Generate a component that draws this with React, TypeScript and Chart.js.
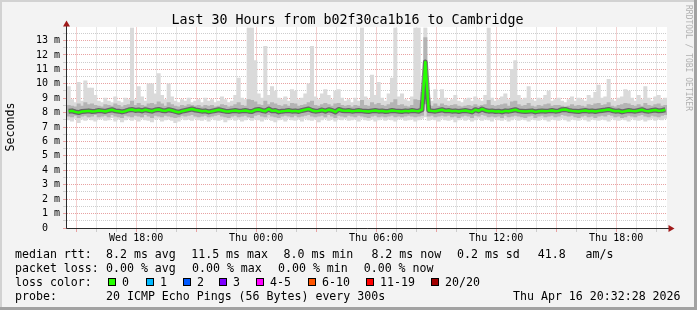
import React, { useEffect, useRef } from 'react';
import { Chart, registerables } from 'chart.js';

Chart.register(...registerables);

const FONT = '"DejaVu Sans Mono", "Liberation Mono", monospace';

const chartTitle = 'Last 30 Hours from b02f30ca1b16 to Cambridge';
const yAxisTitle = 'Seconds';
const watermark = 'RRDTOOL / TOBI OETIKER';

// time axis in hours since the first sample (Wed 14:32:28); one sample every 10 minutes
const spanHours = 30;
const stepHours = 1 / 6;
const firstFullHour = 0.4589; // Wed 15:00
const firstFullHourOfDay = 15;
const hourMarkCount = 30;
const xTickLabels = ['Wed 18:00', 'Thu 00:00', 'Thu 06:00', 'Thu 12:00', 'Thu 18:00'];
const xTickHourMark = [3, 9, 15, 21, 27];

const yMax = 13.9;
const yStep = 0.5;
const yTickLabels = ['0  ', '1 m', '2 m', '3 m', '4 m', '5 m', '6 m', '7 m', '8 m', '9 m', '10 m', '11 m', '12 m', '13 m'];

// median round trip time (ms)
const medianRtt = [
  8.10, 8.12, 8.05, 8.00, 8.08, 8.10, 8.12, 8.08, 8.10, 8.14, 8.12, 8.08, 8.15, 8.20, 8.12, 8.10, 8.05, 8.10, 8.18, 8.22,
  8.15, 8.18, 8.12, 8.20, 8.15, 8.10, 8.18, 8.22, 8.15, 8.12, 8.20, 8.15, 8.08, 8.02, 8.10, 8.15, 8.20, 8.25, 8.18, 8.15,
  8.10, 8.12, 8.05, 8.10, 8.15, 8.20, 8.15, 8.10, 8.08, 8.12, 8.15, 8.10, 8.12, 8.15, 8.10, 8.08, 8.18, 8.22, 8.15, 8.10,
  8.25, 8.12, 8.15, 8.05, 8.10, 8.12, 8.15, 8.10, 8.12, 8.08, 8.15, 8.20, 8.25, 8.15, 8.10, 8.12, 8.18, 8.10, 8.20, 8.15,
  8.05, 8.22, 8.15, 8.12, 8.15, 8.10, 8.12, 8.15, 8.12, 8.10, 8.08, 8.12, 8.15, 8.10, 8.12, 8.08, 8.10, 8.15, 8.12, 8.10,
  8.08, 8.12, 8.10, 8.15, 8.12, 8.10, 8.20, 11.50, 8.15, 8.12, 8.10, 8.15, 8.20, 8.12, 8.15, 8.10, 8.12, 8.08, 8.12, 8.15,
  8.10, 8.05, 8.20, 8.12, 8.25, 8.15, 8.10, 8.12, 8.08, 8.10, 8.05, 8.12, 8.10, 8.15, 8.20, 8.12, 8.10, 8.08, 8.10, 8.12,
  8.05, 8.10, 8.12, 8.10, 8.12, 8.15, 8.10, 8.12, 8.20, 8.22, 8.15, 8.12, 8.10, 8.08, 8.12, 8.15, 8.10, 8.12, 8.08, 8.12,
  8.15, 8.18, 8.22, 8.15, 8.10, 8.12, 8.05, 8.10, 8.15, 8.12, 8.10, 8.15, 8.20, 8.12, 8.10, 8.15, 8.18, 8.12, 8.15, 8.20,
];

// highest ping of each round (ms)
const maxRtt = [
  9.80, 8.90, 8.70, 10.10, 8.80, 10.20, 9.70, 9.70, 9.20, 8.80, 8.70, 9.00, 8.80, 8.70, 9.10, 8.80, 8.70, 9.00, 8.90, 13.90,
  8.90, 9.80, 9.10, 8.80, 10.00, 10.00, 9.30, 10.70, 9.20, 8.90, 10.00, 9.10, 8.80, 8.70, 8.90, 8.80, 9.00, 8.70, 8.80, 8.90,
  8.70, 9.00, 8.80, 8.90, 8.70, 8.80, 9.10, 8.90, 8.70, 8.80, 9.20, 10.40, 9.00, 8.90, 13.90, 13.90, 11.60, 9.30, 9.00, 12.60,
  9.20, 9.80, 9.50, 9.00, 8.90, 9.10, 8.80, 9.60, 9.50, 8.90, 9.00, 9.30, 10.00, 12.60, 9.10, 8.90, 9.30, 9.60, 9.20, 8.90,
  9.50, 9.60, 9.00, 8.80, 8.90, 8.70, 9.00, 8.80, 13.90, 9.10, 8.90, 10.60, 9.20, 10.10, 9.00, 8.80, 9.30, 10.40, 13.90, 9.10,
  9.30, 8.90, 8.80, 9.10, 13.90, 13.90, 9.40, 13.90, 9.00, 8.80, 9.60, 8.90, 9.60, 9.00, 8.80, 8.90, 9.20, 8.80, 8.70, 8.90,
  9.00, 8.80, 9.10, 8.90, 8.80, 9.20, 13.90, 9.00, 8.80, 8.90, 9.10, 9.30, 8.90, 11.00, 11.60, 9.20, 8.90, 9.00, 9.80, 8.90,
  8.80, 9.00, 8.90, 9.20, 9.50, 8.80, 8.90, 9.00, 8.80, 8.70, 8.90, 9.10, 8.80, 9.00, 8.90, 8.80, 9.20, 9.00, 9.40, 9.90,
  9.00, 9.10, 10.30, 8.90, 8.80, 9.00, 9.10, 9.60, 9.50, 9.00, 8.80, 9.20, 8.90, 9.80, 9.00, 8.80, 9.10, 9.20, 8.90, 9.00,
];

// upper edge of the dense part of the smoke (ms)
const upperRtt = [
  8.50, 8.45, 8.40, 8.60, 8.45, 8.70, 8.55, 8.60, 8.50, 8.45, 8.40, 8.55, 8.50, 8.45, 8.60, 8.50, 8.40, 8.50, 8.55, 8.80,
  8.50, 8.65, 8.50, 8.45, 8.60, 8.65, 8.55, 8.75, 8.60, 8.45, 8.70, 8.55, 8.45, 8.40, 8.50, 8.45, 8.55, 8.50, 8.45, 8.50,
  8.40, 8.50, 8.45, 8.50, 8.40, 8.45, 8.55, 8.50, 8.40, 8.45, 8.55, 8.70, 8.50, 8.45, 8.90, 8.85, 8.75, 8.55, 8.50, 8.80,
  8.55, 8.70, 8.60, 8.50, 8.45, 8.55, 8.45, 8.65, 8.60, 8.45, 8.50, 8.55, 8.70, 8.80, 8.50, 8.45, 8.55, 8.65, 8.55, 8.45,
  8.60, 8.65, 8.50, 8.45, 8.50, 8.40, 8.50, 8.45, 8.85, 8.50, 8.45, 8.70, 8.55, 8.65, 8.50, 8.45, 8.55, 8.70, 8.90, 8.50,
  8.55, 8.45, 8.40, 8.50, 8.90, 8.85, 8.70, 13.20, 8.50, 8.45, 8.60, 8.45, 8.60, 8.50, 8.45, 8.50, 8.55, 8.45, 8.40, 8.45,
  8.50, 8.45, 8.55, 8.45, 8.50, 8.55, 8.85, 8.50, 8.45, 8.50, 8.55, 8.60, 8.45, 8.75, 8.80, 8.55, 8.45, 8.50, 8.65, 8.45,
  8.40, 8.50, 8.45, 8.55, 8.60, 8.45, 8.50, 8.50, 8.45, 8.40, 8.45, 8.55, 8.45, 8.50, 8.45, 8.40, 8.55, 8.50, 8.60, 8.65,
  8.50, 8.55, 8.70, 8.45, 8.40, 8.50, 8.55, 8.65, 8.60, 8.50, 8.45, 8.55, 8.45, 8.65, 8.50, 8.45, 8.55, 8.60, 8.45, 8.50,
];

// lower edge of the dense part of the smoke (ms)
const lowerRtt = [
  7.75, 7.70, 7.80, 7.65, 7.75, 7.80, 7.70, 7.75, 7.85, 7.70, 7.75, 7.80, 7.70, 7.85, 7.75, 7.70, 7.65, 7.80, 7.75, 7.70,
  7.80, 7.75, 7.70, 7.85, 7.75, 7.65, 7.80, 7.75, 7.70, 7.80, 7.75, 7.70, 7.65, 7.70, 7.80, 7.75, 7.80, 7.85, 7.75, 7.70,
  7.75, 7.80, 7.70, 7.75, 7.80, 7.85, 7.75, 7.70, 7.65, 7.75, 7.80, 7.70, 7.75, 7.80, 7.70, 7.65, 7.80, 7.85, 7.75, 7.70,
  7.85, 7.75, 7.70, 7.65, 7.75, 7.80, 7.75, 7.70, 7.80, 7.70, 7.75, 7.80, 7.85, 7.75, 7.70, 7.75, 7.80, 7.70, 7.85, 7.75,
  7.65, 7.80, 7.75, 7.70, 7.80, 7.75, 7.70, 7.80, 7.75, 7.70, 7.65, 7.75, 7.80, 7.70, 7.75, 7.70, 7.75, 7.80, 7.70, 7.75,
  7.70, 7.75, 7.80, 7.75, 7.70, 7.75, 7.80, 8.60, 7.75, 7.80, 7.70, 7.75, 7.80, 7.75, 7.80, 7.70, 7.75, 7.65, 7.75, 7.80,
  7.75, 7.65, 7.80, 7.75, 7.85, 7.80, 7.70, 7.75, 7.70, 7.75, 7.65, 7.80, 7.70, 7.75, 7.80, 7.75, 7.70, 7.65, 7.75, 7.80,
  7.65, 7.75, 7.80, 7.70, 7.75, 7.80, 7.70, 7.75, 7.85, 7.80, 7.75, 7.80, 7.70, 7.65, 7.75, 7.80, 7.70, 7.75, 7.65, 7.75,
  7.80, 7.75, 7.85, 7.80, 7.70, 7.75, 7.65, 7.70, 7.80, 7.75, 7.70, 7.80, 7.85, 7.75, 7.70, 7.80, 7.75, 7.70, 7.80, 7.85,
];

// lowest ping of each round (ms)
const minRtt = [
  7.50, 7.40, 7.60, 7.30, 7.55, 7.45, 7.60, 7.50, 7.40, 7.55, 7.60, 7.45, 7.50, 7.65, 7.40, 7.55, 7.35, 7.50, 7.60, 7.45,
  7.55, 7.40, 7.60, 7.50, 7.45, 7.35, 7.55, 7.60, 7.40, 7.50, 7.55, 7.45, 7.30, 7.40, 7.60, 7.50, 7.55, 7.45, 7.60, 7.50,
  7.45, 7.55, 7.40, 7.60, 7.50, 7.45, 7.55, 7.35, 7.50, 7.60, 7.45, 7.55, 7.40, 7.50, 7.60, 7.45, 7.55, 7.50, 7.40, 7.55,
  7.60, 7.45, 7.35, 7.50, 7.55, 7.40, 7.60, 7.50, 7.45, 7.55, 7.40, 7.60, 7.50, 7.45, 7.55, 7.35, 7.50, 7.60, 7.45, 7.55,
  7.40, 7.55, 7.50, 7.60, 7.45, 7.50, 7.55, 7.40, 7.60, 7.50, 7.45, 7.55, 7.40, 7.50, 7.60, 7.45, 7.55, 7.50, 7.40, 7.55,
  7.60, 7.45, 7.50, 7.55, 7.40, 7.50, 7.60, 7.70, 7.45, 7.55, 7.50, 7.40, 7.60, 7.50, 7.45, 7.55, 7.35, 7.50, 7.60, 7.45,
  7.55, 7.40, 7.50, 7.60, 7.45, 7.55, 7.50, 7.40, 7.60, 7.50, 7.45, 7.55, 7.40, 7.50, 7.60, 7.45, 7.55, 7.50, 7.40, 7.55,
  7.50, 7.45, 7.60, 7.50, 7.40, 7.55, 7.50, 7.45, 7.60, 7.50, 7.40, 7.55, 7.50, 7.45, 7.60, 7.50, 7.40, 7.55, 7.50, 7.45,
  7.55, 7.50, 7.40, 7.60, 7.50, 7.45, 7.55, 7.50, 7.40, 7.60, 7.50, 7.45, 7.55, 7.40, 7.50, 7.60, 7.45, 7.55, 7.50, 7.60,
];

const legendRtt = ['median rtt:', '8.2 ms avg', '11.5 ms max', '8.0 ms min', '8.2 ms now', '0.2 ms sd', '41.8', 'am/s'];
const legendLoss = ['packet loss:', '0.00 % avg', '0.00 % max', '0.00 % min', '0.00 % now'];
const lossColorTitle = 'loss color:';
const lossLabels = ['0', '1', '2', '3', '4-5', '6-10', '11-19', '20/20'];
const lossColors = ['#26ff00', '#00b8ff', '#0059ff', '#7e00ff', '#ff00ff', '#ff5500', '#ff0000', '#a10000'];
const legendProbe = ['probe:', '20 ICMP Echo Pings (56 Bytes) every 300s', 'Thu Apr 16 20:32:28 2026'];

const W = 697;
const H = 310;
const GRID_RED = '#e8a2a2';
const GRID_GRAY = '#cdcdcd';
const ARROW = '#a01a1a';

const decorPlugin = {
  id: 'decor',
  beforeDraw(chart: any) {
    const { ctx, chartArea: a } = chart;
    ctx.save();
    ctx.fillStyle = '#f3f3f3';
    ctx.fillRect(0, 0, W, H);
    ctx.fillStyle = '#d2d2d2';
    ctx.fillRect(0, 0, W, 2);
    ctx.fillRect(0, 0, 2, H);
    ctx.fillStyle = '#a2a2a2';
    ctx.fillRect(W - 3, 0, 3, H);
    ctx.fillRect(0, H - 3, W, 3);
    ctx.fillStyle = '#ffffff';
    ctx.fillRect(a.left, Math.floor(a.top), a.right - a.left, a.bottom - Math.floor(a.top));
    ctx.restore();
  },
  afterDraw(chart: any) {
    const { ctx, chartArea: a } = chart;
    ctx.save();
    // axes
    ctx.strokeStyle = '#2a2a2a';
    ctx.lineWidth = 1;
    ctx.beginPath();
    const ax = a.left - 0.5;
    const ay = a.bottom + 0.5;
    ctx.moveTo(ax, ay);
    ctx.lineTo(ax, 26);
    ctx.moveTo(ax, ay);
    ctx.lineTo(a.right + 2, ay);
    ctx.stroke();
    // arrows
    ctx.fillStyle = ARROW;
    ctx.beginPath();
    ctx.moveTo(ax - 3.5, 26.5);
    ctx.lineTo(ax + 3.5, 26.5);
    ctx.lineTo(ax, 20.5);
    ctx.closePath();
    ctx.fill();
    ctx.beginPath();
    ctx.moveTo(a.right + 1.5, ay - 3.5);
    ctx.lineTo(a.right + 1.5, ay + 3.5);
    ctx.lineTo(a.right + 7.5, ay);
    ctx.closePath();
    ctx.fill();

    // title
    ctx.fillStyle = '#000';
    ctx.textBaseline = 'alphabetic';
    ctx.textAlign = 'center';
    ctx.font = `13.3px ${FONT}`;
    ctx.fillText(chartTitle, 347.5, 23.5);

    // y axis title
    ctx.save();
    ctx.font = `11.6px ${FONT}`;
    ctx.translate(13.5, 127);
    ctx.rotate(-Math.PI / 2);
    ctx.textAlign = 'center';
    ctx.fillText(yAxisTitle, 0, 0);
    ctx.restore();

    // watermark
    ctx.save();
    ctx.font = `8px ${FONT}`;
    ctx.fillStyle = '#b0b0b0';
    ctx.translate(685.5, 5);
    ctx.rotate(Math.PI / 2);
    ctx.textAlign = 'left';
    ctx.fillText(watermark, 0, 0);
    ctx.restore();

    // legend
    ctx.font = `11.6px ${FONT}`;
    ctx.textAlign = 'left';
    ctx.fillStyle = '#000';
    const rttX = [15, 106, 191.2, 283.5, 371.4, 457, 537.7, 585.5];
    legendRtt.forEach((t, i) => ctx.fillText(t, rttX[i], 258.3));
    const lossX = [15, 106, 192, 278, 363.7];
    legendLoss.forEach((t, i) => ctx.fillText(t, lossX[i], 272));
    ctx.fillText(lossColorTitle, 15, 285.8);
    const boxX = [108, 145.5, 183, 219, 256, 307.5, 365.5, 430.5];
    lossLabels.forEach((t, i) => {
      const bx = Math.round(boxX[i]);
      ctx.fillStyle = lossColors[i];
      ctx.fillRect(bx, 278, 8, 8);
      ctx.strokeStyle = '#000';
      ctx.lineWidth = 1;
      ctx.strokeRect(bx + 0.5, 278.5, 7, 7);
      ctx.fillStyle = '#000';
      ctx.fillText(t, bx + 14, 285.8);
    });
    const probeX = [15, 106, 513];
    legendProbe.forEach((t, i) => ctx.fillText(t, probeX[i], 299.7));
    ctx.restore();
  },
};

export default function App() {
  const ref = useRef<HTMLCanvasElement | null>(null);

  useEffect(() => {
    const canvas = ref.current;
    if (!canvas) return;
    const xs = medianRtt.map((_, i) => (i + 0.5) * stepHours);
    const smoke = xs.map((x, i) => ({ x, y: [minRtt[i], maxRtt[i]] }));
    const dense = xs.map((x, i) => ({ x, y: [lowerRtt[i], upperRtt[i]] }));
    const median = xs.map((x, i) => ({ x, y: medianRtt[i] }));
    const hourMarks: number[] = [];
    for (let k = 0; k < hourMarkCount; k++) hourMarks.push(firstFullHour + k);

    const isMajorHour = (k: number) => (firstFullHourOfDay + k) % 3 === 0;
    const isWhole = (v: number) => Math.abs(v - Math.round(v)) < 1e-6;

    const chart = new Chart(canvas, {
      type: 'bar',
      data: {
        datasets: [
          {
            type: 'line',
            data: median,
            borderColor: '#26ff00',
            borderWidth: 2.5,
            pointRadius: 0,
            tension: 0,
            borderJoinStyle: 'round',
            order: 1,
          } as any,
          {
            type: 'line',
            data: median,
            borderColor: 'rgba(50,50,50,0.6)',
            borderWidth: 5,
            pointRadius: 0,
            tension: 0,
            borderJoinStyle: 'round',
            order: 2,
          } as any,
          {
            type: 'bar',
            data: dense,
            backgroundColor: '#b4b4b4',
            borderWidth: 0,
            barPercentage: 1,
            categoryPercentage: 1,
            grouped: false,
            order: 3,
          } as any,
          {
            type: 'bar',
            data: smoke,
            backgroundColor: '#dadada',
            borderWidth: 0,
            barPercentage: 1,
            categoryPercentage: 1,
            grouped: false,
            order: 4,
          } as any,
        ],
      },
      options: {
        responsive: false,
        animation: false,
        events: [],
        layout: { padding: { left: 0, right: 30, top: 27.5, bottom: 0 } },
        plugins: {
          legend: { display: false },
          tooltip: { enabled: false },
          title: { display: false },
        },
        scales: {
          x: {
            type: 'linear',
            min: 0,
            max: spanHours,
            offset: false,
            z: 1,
            afterBuildTicks: (s: any) => {
              s.ticks = hourMarks.map((v) => ({ value: v }));
            },
            afterFit: (s: any) => {
              s.height = 82;
            },
            grid: {
              offset: false,
              color: (c: any) => (isMajorHour(c.index) ? GRID_RED : GRID_GRAY),
              lineWidth: 1,
              tickLength: 4,
            },
            border: { display: false, dash: [1, 1] },
            ticks: {
              autoSkip: false,
              maxRotation: 0,
              minRotation: 0,
              padding: 0,
              color: '#000',
              font: { family: FONT, size: 10 },
              callback: (_v: any, index: number) => {
                const j = xTickHourMark.indexOf(index);
                return j >= 0 ? xTickLabels[j] : '';
              },
            },
          } as any,
          y: {
            type: 'linear',
            min: 0,
            max: yMax,
            z: 1,
            afterFit: (s: any) => {
              s.width = 67;
            },
            grid: {
              color: (c: any) => (c.tick && isWhole(c.tick.value) ? GRID_RED : GRID_GRAY),
              lineWidth: 1,
              tickLength: 4,
            },
            border: { display: false, dash: [1, 1] },
            ticks: {
              stepSize: yStep,
              includeBounds: false,
              autoSkip: false,
              padding: 3,
              color: '#000',
              font: { family: FONT, size: 10 },
              callback: (v: any) => (isWhole(v) ? yTickLabels[Math.round(v)] : ''),
            },
          } as any,
        },
      } as any,
      plugins: [decorPlugin],
    });
    return () => chart.destroy();
  }, []);

  return (
    <div style={{ position: 'fixed', left: 0, top: 0, width: W, height: H }}>
      <canvas ref={ref} width={W} height={H} style={{ width: W, height: H, display: 'block' }} />
    </div>
  );
}
